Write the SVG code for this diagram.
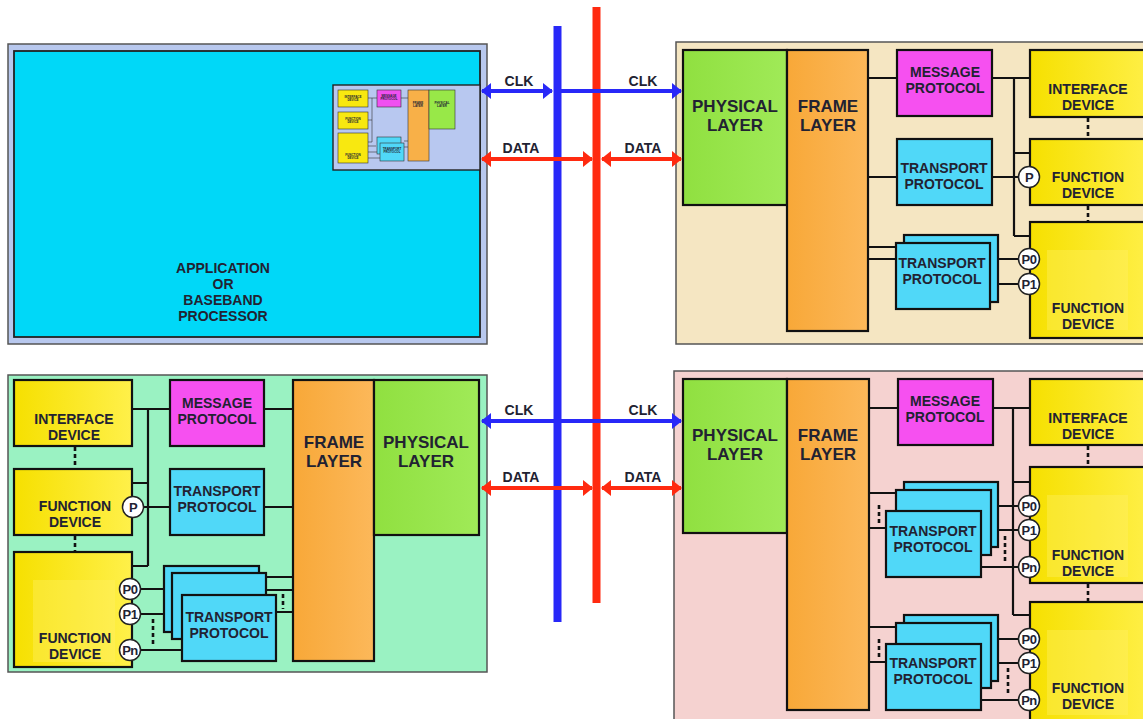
<svg xmlns="http://www.w3.org/2000/svg" width="1143" height="719" viewBox="0 0 1143 719">
<defs>
<linearGradient id="gy" x1="0" y1="0" x2="1" y2="0"><stop offset="0" stop-color="#f6e000"/><stop offset="1" stop-color="#fff04a"/></linearGradient>
<linearGradient id="gg" x1="0" y1="0" x2="1" y2="0"><stop offset="0" stop-color="#90e040"/><stop offset="1" stop-color="#a0ea58"/></linearGradient>
<linearGradient id="go" x1="0" y1="0" x2="1" y2="0"><stop offset="0" stop-color="#f8a838"/><stop offset="1" stop-color="#fcb85a"/></linearGradient>
<marker id="ab" viewBox="0 0 10 16" refX="9" refY="8" markerWidth="10" markerHeight="16" markerUnits="userSpaceOnUse" orient="auto-start-reverse"><path d="M0,0 L10,8 L0,16 Z" fill="#2828f8"/></marker>
<marker id="ar" viewBox="0 0 10 16" refX="9" refY="8" markerWidth="10" markerHeight="16" markerUnits="userSpaceOnUse" orient="auto-start-reverse"><path d="M0,0 L10,8 L0,16 Z" fill="#ff2a10"/></marker>
</defs>
<style>
text{font-family:"Liberation Sans",Arial,sans-serif;font-weight:bold;fill:#222232;text-anchor:middle}
.t14{font-size:14px}
.t17{font-size:17px}
.tp{font-size:13px;letter-spacing:-0.5px}
.tiny{font-size:3px}
.box{stroke:#111;stroke-width:2.2}
.y{fill:url(#gy)}
.g{fill:url(#gg)}
.o{fill:url(#go)}
.m{fill:#f650f0}
.c{fill:#50d8f8}
.hl{fill:#fff270;opacity:0.35}
.ln{stroke:#111;stroke-width:2.2;fill:none}
.dt{stroke:#111;stroke-width:2.6;stroke-dasharray:4,3;fill:none}
.port{fill:#fff;stroke:#222;stroke-width:1.5}
.pnl{stroke:#555;stroke-width:1.5}
.clk{stroke:#2828f8;stroke-width:4;fill:none}
.dat{stroke:#ff2a10;stroke-width:4;fill:none}
.mb{stroke:#333;stroke-width:0.6}
.ml{stroke:#333;stroke-width:0.6;fill:none}
</style>
<rect width="1143" height="719" fill="#ffffff"/>

<!-- Top-left: application processor -->
<g id="app-processor">
<rect x="8" y="44" width="479" height="300" fill="#b8c8ee" class="pnl"/>
<rect x="14" y="51" width="466" height="286" fill="#00d8f8" stroke="#222" stroke-width="1.8"/>
<text class="t14" x="223" y="273">APPLICATION</text>
<text class="t14" x="223" y="289">OR</text>
<text class="t14" x="223" y="305">BASEBAND</text>
<text class="t14" x="223" y="321">PROCESSOR</text>
</g>
<g id="mini-interface">
<rect x="333" y="85" width="147" height="85" fill="#b8c8f0" stroke="#222" stroke-width="1.4"/>
<path class="ml" d="M368,98 H377 M372,98 V142 M368,120 H372 M368,142 H372 M401,98 H408 M404,141 H408 M404,147 H408 M368,146 H376 M368,152 H378 M368,158 H380"/>
<rect class="mb" x="338" y="90" width="30" height="17" fill="#f8e810"/>
<rect class="mb" x="338" y="112" width="30" height="17" fill="#f8e810"/>
<rect class="mb" x="338" y="133" width="30" height="30" fill="#f8e810"/>
<rect class="mb" x="377" y="90" width="24" height="17" fill="#f050f0"/>
<rect class="mb" x="408" y="90" width="21" height="71" fill="#f8b048"/>
<rect class="mb" x="429" y="90" width="26" height="39" fill="#98e848"/>
<rect class="mb" x="377" y="137" width="24" height="17" fill="#50d8f8"/>
<rect class="mb" x="380" y="143" width="24" height="18" fill="#50d8f8"/>
<text class="tiny" x="353" y="98">INTERFACE</text><text class="tiny" x="353" y="101">DEVICE</text>
<text class="tiny" x="353" y="120">FUNCTION</text><text class="tiny" x="353" y="123">DEVICE</text>
<text class="tiny" x="353" y="156">FUNCTION</text><text class="tiny" x="353" y="159">DEVICE</text>
<text class="tiny" x="389" y="97">MESSAGE</text><text class="tiny" x="389" y="100">PROTOCOL</text>
<text class="tiny" x="418" y="104">FRAME</text><text class="tiny" x="418" y="107">LAYER</text>
<text class="tiny" x="442" y="104">PHYSICAL</text><text class="tiny" x="442" y="107">LAYER</text>
<text class="tiny" x="392" y="150">TRANSPORT</text><text class="tiny" x="392" y="153">PROTOCOL</text>
</g>

<!-- Panels -->
<g id="panel-top-right"><rect x="676" y="42" width="480" height="302" fill="#f5e6c2" class="pnl"/></g>
<g id="panel-bottom-left"><rect x="8" y="375" width="479" height="297" fill="#9af2c2" class="pnl"/></g>
<g id="panel-bottom-right"><rect x="674" y="371" width="480" height="360" fill="#f5d2d0" class="pnl"/></g>

<!-- Connectors -->
<g id="connectors">
<line x1="557.5" y1="26" x2="557.5" y2="622" stroke="#2828f8" stroke-width="8"/>
<line x1="596.5" y1="7" x2="596.5" y2="603" stroke="#ff2a10" stroke-width="8"/>
<line class="clk" x1="482" y1="91" x2="552" y2="91" marker-start="url(#ab)" marker-end="url(#ab)"/>
<line class="clk" x1="558" y1="91" x2="681" y2="91" marker-end="url(#ab)"/>
<line class="dat" x1="482" y1="159" x2="592" y2="159" marker-start="url(#ar)" marker-end="url(#ar)"/>
<line class="dat" x1="602" y1="159" x2="681" y2="159" marker-start="url(#ar)" marker-end="url(#ar)"/>
<line class="clk" x1="482" y1="421" x2="681" y2="421" marker-start="url(#ab)" marker-end="url(#ab)"/>
<line class="dat" x1="482" y1="488" x2="592" y2="488" marker-start="url(#ar)" marker-end="url(#ar)"/>
<line class="dat" x1="602" y1="488" x2="681" y2="488" marker-start="url(#ar)" marker-end="url(#ar)"/>

<path class="ln" d="M868,78 H897 M992,78 H1030 M1014,78 V236 M1014,153 H1030 M1014,236 H1030 M868,177 H897 M992,177 H1020 M868,247 H896 M868,259 H896 M990,259 H1020 M998,284 H1020"/>
<path class="dt" d="M1088,118 V139 M1088,206 V222"/>
<path class="ln" d="M132,409 H170 M264,409 H293 M148,409 V566 M132,483 H148 M132,566 H148 M144,507 H170 M264,507 H293 M140,589 H164 M140,614 H172 M140,650 H182 M259,577 H293 M266,590 H293 M276,612 H293"/>
<path class="dt" d="M75,447 V469 M75,536 V552 M153,619 V646 M283,594 V609"/>
<path class="ln" d="M869,408 H898 M993,408 H1030 M1013,408 V615 M1013,482 H1030 M1013,615 H1030 M869,493 H896 M869,528 H886 M998,506 H1020 M991,530 H1020 M981,567 H1020 M869,627 H896 M869,662 H886 M998,639 H1020 M991,663 H1020 M981,700 H1020"/>
<path class="dt" d="M879,505 V524 M1005,536 V562 M879,639 V658 M1008,668 V695 M1088,446 V467 M1088,584 V602"/>
</g>

<g id="bus-labels">
<text class="t14" x="519" y="86">CLK</text>
<text class="t14" x="643" y="86">CLK</text>
<text class="t14" x="521" y="153">DATA</text>
<text class="t14" x="643" y="153">DATA</text>
<text class="t14" x="519" y="415">CLK</text>
<text class="t14" x="643" y="415">CLK</text>
<text class="t14" x="521" y="482">DATA</text>
<text class="t14" x="643" y="482">DATA</text>
</g>

<g id="tr-physical"><rect class="box g" x="683" y="50" width="104" height="155"/><text class="t17" x="735" y="112">PHYSICAL</text><text class="t17" x="735" y="131">LAYER</text></g>
<g id="tr-frame"><rect class="box o" x="787" y="50" width="81" height="281"/><text class="t17" x="828" y="112">FRAME</text><text class="t17" x="828" y="131">LAYER</text></g>
<g id="tr-message"><rect class="box m" x="897" y="50" width="95" height="66"/><text class="t14" x="945" y="77">MESSAGE</text><text class="t14" x="945" y="93">PROTOCOL</text></g>
<g id="tr-interface"><rect class="box y" x="1030" y="50" width="125" height="67"/><text class="t14" x="1088" y="94">INTERFACE</text><text class="t14" x="1088" y="110">DEVICE</text></g>
<g id="tr-transport"><rect class="box c" x="897" y="139" width="95" height="66"/><text class="t14" x="944" y="173">TRANSPORT</text><text class="t14" x="944" y="189">PROTOCOL</text></g>
<g id="tr-function1"><rect class="box y" x="1030" y="139" width="125" height="66"/><text class="t14" x="1088" y="182">FUNCTION</text><text class="t14" x="1088" y="198">DEVICE</text>
<circle class="port" cx="1029" cy="177" r="10.5"/><text class="tp" x="1029" y="181.5">P</text></g>
<g id="tr-function2"><rect class="box y" x="1030" y="222" width="125" height="116"/><rect class="hl" x="1047" y="250" width="81" height="80"/><text class="t14" x="1088" y="313">FUNCTION</text><text class="t14" x="1088" y="329">DEVICE</text>
<circle class="port" cx="1029" cy="259" r="10.5"/><text class="tp" x="1029" y="263.5">P0</text>
<circle class="port" cx="1029" cy="284" r="10.5"/><text class="tp" x="1029" y="288.5">P1</text></g>
<g id="tr-transport-stack"><rect class="box c" x="904" y="235" width="94" height="67"/><rect class="box c" x="896" y="243" width="94" height="66"/><text class="t14" x="942" y="268">TRANSPORT</text><text class="t14" x="942" y="284">PROTOCOL</text></g>

<g id="bl-interface"><rect class="box y" x="14" y="380" width="118" height="66"/><text class="t14" x="74" y="424">INTERFACE</text><text class="t14" x="74" y="440">DEVICE</text></g>
<g id="bl-message"><rect class="box m" x="170" y="380" width="94" height="66"/><text class="t14" x="217" y="408">MESSAGE</text><text class="t14" x="217" y="424">PROTOCOL</text></g>
<g id="bl-function1"><rect class="box y" x="14" y="469" width="118" height="66"/><text class="t14" x="75" y="511">FUNCTION</text><text class="t14" x="75" y="527">DEVICE</text>
<circle class="port" cx="133" cy="507" r="10.5"/><text class="tp" x="133" y="511.5">P</text></g>
<g id="bl-transport"><rect class="box c" x="170" y="469" width="94" height="66"/><text class="t14" x="217" y="496">TRANSPORT</text><text class="t14" x="217" y="512">PROTOCOL</text></g>
<g id="bl-function2"><rect class="box y" x="14" y="552" width="118" height="115"/><rect class="hl" x="33" y="580" width="82" height="82"/><text class="t14" x="75" y="643">FUNCTION</text><text class="t14" x="75" y="659">DEVICE</text>
<circle class="port" cx="130" cy="589" r="10.5"/><text class="tp" x="130" y="593.5">P0</text>
<circle class="port" cx="130" cy="614" r="10.5"/><text class="tp" x="130" y="618.5">P1</text>
<circle class="port" cx="130" cy="650" r="10.5"/><text class="tp" x="130" y="654.5">Pn</text></g>
<g id="bl-transport-stack"><rect class="box c" x="164" y="566" width="95" height="66"/><rect class="box c" x="172" y="573" width="94" height="66"/><rect class="box c" x="182" y="595" width="94" height="66"/><text class="t14" x="229" y="622">TRANSPORT</text><text class="t14" x="229" y="638">PROTOCOL</text></g>
<g id="bl-frame"><rect class="box o" x="293" y="380" width="81" height="281"/><text class="t17" x="334" y="448">FRAME</text><text class="t17" x="334" y="467">LAYER</text></g>
<g id="bl-physical"><rect class="box g" x="374" y="380" width="105" height="155"/><text class="t17" x="426" y="448">PHYSICAL</text><text class="t17" x="426" y="467">LAYER</text></g>

<g id="br-physical"><rect class="box g" x="683" y="379" width="104" height="154"/><text class="t17" x="735" y="441">PHYSICAL</text><text class="t17" x="735" y="460">LAYER</text></g>
<g id="br-frame"><rect class="box o" x="787" y="379" width="82" height="331"/><text class="t17" x="828" y="441">FRAME</text><text class="t17" x="828" y="460">LAYER</text></g>
<g id="br-message"><rect class="box m" x="898" y="379" width="95" height="66"/><text class="t14" x="945" y="406">MESSAGE</text><text class="t14" x="945" y="422">PROTOCOL</text></g>
<g id="br-interface"><rect class="box y" x="1030" y="379" width="125" height="66"/><text class="t14" x="1088" y="423">INTERFACE</text><text class="t14" x="1088" y="439">DEVICE</text></g>
<g id="br-function1"><rect class="box y" x="1030" y="467" width="125" height="116"/><rect class="hl" x="1047" y="495" width="81" height="82"/><text class="t14" x="1088" y="560">FUNCTION</text><text class="t14" x="1088" y="576">DEVICE</text>
<circle class="port" cx="1029" cy="506" r="10.5"/><text class="tp" x="1029" y="510.5">P0</text>
<circle class="port" cx="1029" cy="530" r="10.5"/><text class="tp" x="1029" y="534.5">P1</text>
<circle class="port" cx="1029" cy="567" r="10.5"/><text class="tp" x="1029" y="571.5">Pn</text></g>
<g id="br-transport-stack1"><rect class="box c" x="904" y="482" width="94" height="65"/><rect class="box c" x="896" y="490" width="95" height="65"/><rect class="box c" x="886" y="511" width="95" height="66"/><text class="t14" x="933" y="536">TRANSPORT</text><text class="t14" x="933" y="552">PROTOCOL</text></g>
<g id="br-function2"><rect class="box y" x="1030" y="602" width="125" height="130"/><rect class="hl" x="1047" y="630" width="81" height="85"/><text class="t14" x="1088" y="693">FUNCTION</text><text class="t14" x="1088" y="709">DEVICE</text>
<circle class="port" cx="1029" cy="639" r="10.5"/><text class="tp" x="1029" y="643.5">P0</text>
<circle class="port" cx="1029" cy="663" r="10.5"/><text class="tp" x="1029" y="667.5">P1</text>
<circle class="port" cx="1029" cy="700" r="10.5"/><text class="tp" x="1029" y="704.5">Pn</text></g>
<g id="br-transport-stack2"><rect class="box c" x="904" y="615" width="94" height="66"/><rect class="box c" x="896" y="623" width="95" height="65"/><rect class="box c" x="886" y="644" width="95" height="66"/><text class="t14" x="933" y="668">TRANSPORT</text><text class="t14" x="933" y="684">PROTOCOL</text></g>
</svg>
